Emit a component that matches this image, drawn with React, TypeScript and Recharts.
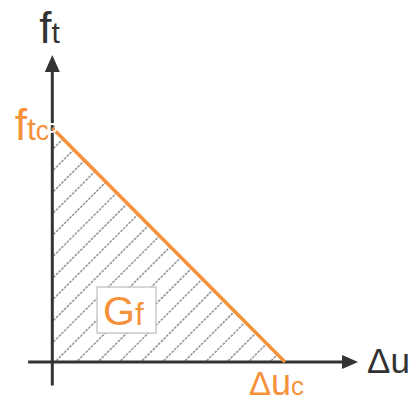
import React from 'react';
import {
  ComposedChart,
  Area,
  Line,
  XAxis,
  YAxis,
  ReferenceLine,
  ReferenceDot,
} from 'recharts';

// Linear softening law: tensile stress ft drops from ftc to zero at crack opening Δuc.
const openings = [0, 1]; // Δu (normalised)
const stresses = [1, 0]; // ft (normalised)
const data = openings.map((u, i) => ({ u, f: stresses[i] }));

const ftc = stresses[0];
const duc = openings[openings.length - 1];

// Fracture energy label sits inside the hatched area
const energyLabelAt = { u: 0.319, f: 0.222 };

// Axis extents (data units)
const xAxisFrom = -0.104;
const xAxisTip = 1.314;
const yAxisFrom = -0.1;
const yAxisTip = 1.312;

const X_DOMAIN: [number, number] = [-0.2248, 1.5673];
const Y_DOMAIN: [number, number] = [-0.1667, 1.547];

const ORANGE = '#F5913A';
const INK = '#333333';
const FONT = '"Liberation Sans", Arial, Helvetica, sans-serif';

const UpArrow = (p: any) => (
  <polygon
    points={`${p.cx},${p.cy} ${p.cx - 7.5},${p.cy + 17} ${p.cx + 7.5},${p.cy + 17}`}
    fill={INK}
  />
);

const RightArrow = (p: any) => (
  <polygon
    points={`${p.cx},${p.cy} ${p.cx - 16},${p.cy - 7} ${p.cx - 16},${p.cy + 7}`}
    fill={INK}
  />
);

const FtLabel = (p: any) => (
  <text x={p.cx - 13} y={p.cy - 12} fill={INK} fontFamily={FONT}>
    <tspan fontSize={44}>f</tspan>
    <tspan fontSize={30}>t</tspan>
  </text>
);

const FtcLabel = (p: any) => (
  <text x={p.cx - 3} y={p.cy + 12} fill={ORANGE} fontFamily={FONT} textAnchor="end">
    <tspan fontSize={44}>f</tspan>
    <tspan fontSize={32}>t</tspan>
    <tspan fontSize={27}>c</tspan>
  </text>
);

const DucLabel = (p: any) => (
  <text x={p.cx - 36} y={p.cy + 33} fill={ORANGE} fontFamily={FONT}>
    <tspan fontSize={33}>Δ</tspan>
    <tspan fontSize={36}>u</tspan>
    <tspan fontSize={26}>c</tspan>
  </text>
);

const DuLabel = (p: any) => (
  <text x={p.cx + 9} y={p.cy + 11} fill={INK} fontFamily={FONT} fontSize={35}>
    Δu
  </text>
);

const GfLabel = (p: any) => (
  <g>
    <rect
      x={p.cx - 29.5}
      y={p.cy - 23}
      width={59}
      height={46}
      fill="#ffffff"
      stroke="#bdbdbd"
      strokeWidth={1.2}
    />
    <text x={p.cx - 23.5} y={p.cy + 15} fill={ORANGE} fontFamily={FONT}>
      <tspan fontSize={41}>G</tspan>
      <tspan fontSize={31}>f</tspan>
    </text>
  </g>
);

export default function App() {
  return (
    <div style={{ position: 'absolute', left: 0, top: 0, width: 417, height: 401, background: '#ffffff' }}>
      <ComposedChart
        width={417}
        height={401}
        data={data}
        margin={{ top: 0, right: 0, bottom: 0, left: 0 }}
      >
        <defs>
          <pattern
            id="hatch"
            patternUnits="userSpaceOnUse"
            width={15.2}
            height={15.2}
            patternTransform="rotate(45)"
          >
            <line
              x1={6}
              y1={0}
              x2={6}
              y2={15.2}
              stroke="#6f6f6f"
              strokeWidth={1.2}
              strokeDasharray="2.5 1.3"
            />
          </pattern>
        </defs>
        <XAxis type="number" dataKey="u" domain={X_DOMAIN} hide allowDataOverflow />
        <YAxis type="number" domain={Y_DOMAIN} hide allowDataOverflow />
        <Area
          type="linear"
          dataKey="f"
          baseValue={0}
          fill="url(#hatch)"
          fillOpacity={1}
          stroke="none"
          isAnimationActive={false}
        />
        <ReferenceLine
          segment={[{ x: 0, y: yAxisFrom }, { x: 0, y: yAxisTip - 0.05 }]}
          stroke={INK}
          strokeWidth={3}
        />
        <ReferenceLine
          segment={[{ x: xAxisFrom, y: 0 }, { x: xAxisTip - 0.05, y: 0 }]}
          stroke={INK}
          strokeWidth={3}
        />
        <ReferenceDot x={0} y={yAxisTip} r={0} shape={UpArrow} />
        <ReferenceDot x={xAxisTip} y={0} r={0} shape={RightArrow} />
        <Line
          type="linear"
          dataKey="f"
          stroke={ORANGE}
          strokeWidth={3.4}
          dot={false}
          activeDot={false}
          isAnimationActive={false}
        />
        <ReferenceDot x={0} y={yAxisTip} r={0} shape={FtLabel} />
        <ReferenceDot x={0} y={ftc} r={0} shape={FtcLabel} />
        <ReferenceDot x={duc} y={0} r={0} shape={DucLabel} />
        <ReferenceDot x={xAxisTip} y={0} r={0} shape={DuLabel} />
        <ReferenceDot x={energyLabelAt.u} y={energyLabelAt.f} r={0} shape={GfLabel} />
      </ComposedChart>
    </div>
  );
}
